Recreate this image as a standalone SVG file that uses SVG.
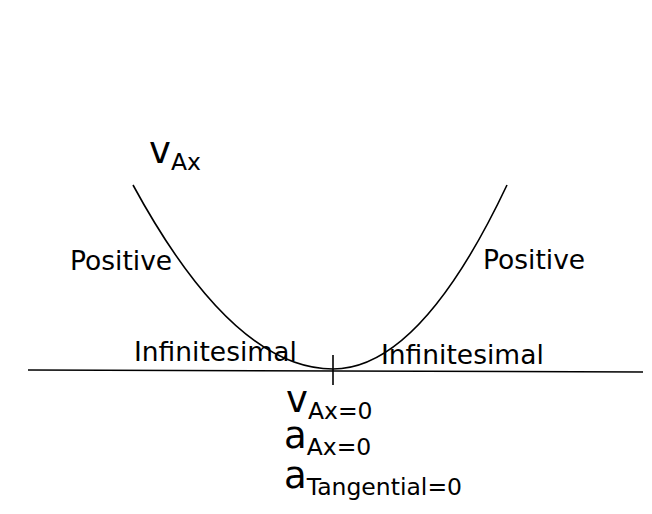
<svg xmlns="http://www.w3.org/2000/svg" width="652" height="514" viewBox="0 0 652 514">
<style>
text{font-family:"DejaVu Sans",Verdana,sans-serif;fill:#000}
.lbl{font-size:26.5px}
.big{font-size:37px}
.sub{font-size:23.5px}
.ln{fill:none;stroke:#000;stroke-width:1.6}
</style>
<rect width="652" height="514" fill="#fff"/>
<g id="connectors">
<path class="ln" d="M28,370 L643,372"/>
<path class="ln" d="M333,355 L333,385"/>
<path class="ln" d="M133,185 Q233,369 333,369 Q420,369 507,185"/>
</g>
<g id="vax"><text x="149" y="163"><tspan class="big">v</tspan><tspan class="sub" dy="7">Ax</tspan></text></g>
<g id="posL"><text class="lbl" x="70" y="270">Positive</text></g>
<g id="posR"><text class="lbl" x="483" y="269">Positive</text></g>
<g id="infL"><text class="lbl" x="134" y="361">Infinitesimal</text></g>
<g id="infR"><text class="lbl" x="381" y="364">Infinitesimal</text></g>
<g id="v0"><text x="286" y="412"><tspan class="big">v</tspan><tspan class="sub" dy="7">Ax=0</tspan></text></g>
<g id="a0"><text x="284" y="448"><tspan class="big">a</tspan><tspan class="sub" dy="7">Ax=0</tspan></text></g>
<g id="at0"><text x="284" y="488"><tspan class="big">a</tspan><tspan class="sub" dy="7">Tangential=0</tspan></text></g>
</svg>
